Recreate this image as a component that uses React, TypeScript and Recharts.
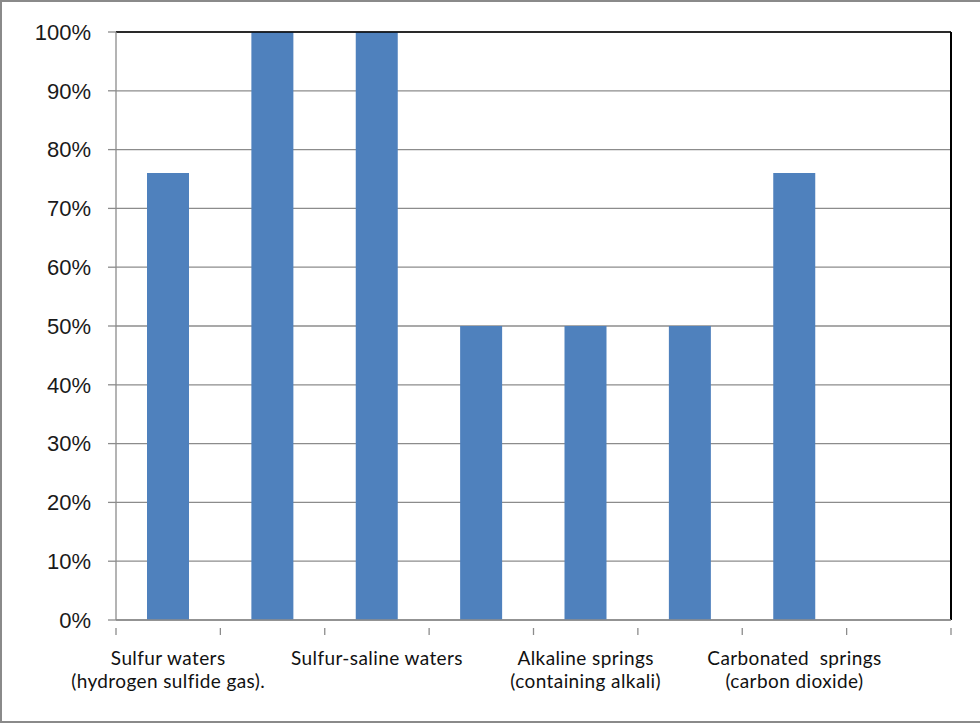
import { BarChart, Bar, XAxis, YAxis, CartesianGrid, ReferenceLine } from 'recharts';

const categories = ['c1', 'c2', 'c3', 'c4', 'c5', 'c6', 'c7', 'c8'];
const labels = [
  ['Sulfur waters', '(hydrogen sulfide gas).'],
  [],
  ['Sulfur-saline waters'],
  [],
  ['Alkaline springs', '(containing alkali)'],
  [],
  ['Carbonated  springs', '(carbon dioxide)'],
  [],
];
const values = [76, 100, 100, 50, 50, 50, 76, null];
const yTicks = [0, 10, 20, 30, 40, 50, 60, 70, 80, 90, 100];

const data = categories.map((key, i) => ({ key, value: values[i] }));

const WIDTH = 980;
const HEIGHT = 724;
const MARGIN = { top: 32, right: 29, left: 0, bottom: 0 };
const Y_AXIS_W = 116;
const X_AXIS_H = 104;
const STEP = (WIDTH - MARGIN.left - MARGIN.right - Y_AXIS_W) / categories.length;

const GRID = '#8c8c8c';

function CategoryTick(props: any) {
  const { x, y, payload } = props;
  const idx = payload.index;
  const lines = labels[idx] || [];
  const left = x - STEP / 2;
  const right = x + STEP / 2;
  return (
    <g>
      <line x1={left} x2={left} y1={y} y2={y + 7} stroke={GRID} strokeWidth={1.3} />
      {idx === categories.length - 1 && (
        <line x1={right} x2={right} y1={y} y2={y + 7} stroke={GRID} strokeWidth={1.3} />
      )}
      <text
        x={x}
        y={y + 37}
        textAnchor="middle"
        fontFamily="Lato, 'Open Sans', sans-serif"
        fontSize={19}
        letterSpacing={0.4}
        fill="#111"
      >
        {lines.map((t: string, i: number) => (
          <tspan key={i} x={x} dy={i === 0 ? 0 : 23} style={{ whiteSpace: 'pre' }}>
            {t}
          </tspan>
        ))}
      </text>
    </g>
  );
}

export default function App() {
  return (
    <div
      style={{
        position: 'absolute',
        left: 0,
        top: 0,
        width: WIDTH,
        height: HEIGHT,
        background: '#fff',
      }}
    >
      <div
        style={{
          position: 'absolute',
          left: 0,
          top: 0,
          width: WIDTH + 4,
          height: HEIGHT - 1,
          boxSizing: 'border-box',
          border: '2px solid #8a8a8a',
        }}
      />
      <BarChart width={WIDTH} height={HEIGHT} data={data} margin={MARGIN}>
        <CartesianGrid vertical={false} stroke={GRID} strokeWidth={1.3} />
        <XAxis
          dataKey="key"
          height={X_AXIS_H}
          interval={0}
          axisLine={{ stroke: GRID, strokeWidth: 1.3 }}
          tickLine={false}
          tick={<CategoryTick />}
        />
        <YAxis
          width={Y_AXIS_W}
          domain={[0, 100]}
          ticks={yTicks}
          interval={0}
          tickFormatter={(v: number) => `${v}%`}
          axisLine={{ stroke: GRID, strokeWidth: 1.3 }}
          tickLine={{ stroke: GRID, strokeWidth: 1.3 }}
          tickSize={8}
          tickMargin={17}
          tick={{ fill: '#1a1a1a', fontSize: 22, fontFamily: "'Liberation Sans', Arial, sans-serif" }}
        />
        <ReferenceLine y={100} stroke="#000" strokeWidth={1.5} />
        <ReferenceLine x="c8" position="end" stroke="#000" strokeWidth={2} />
        <Bar dataKey="value" fill="#4f81bd" barSize={42} isAnimationActive={false} />
      </BarChart>
    </div>
  );
}
